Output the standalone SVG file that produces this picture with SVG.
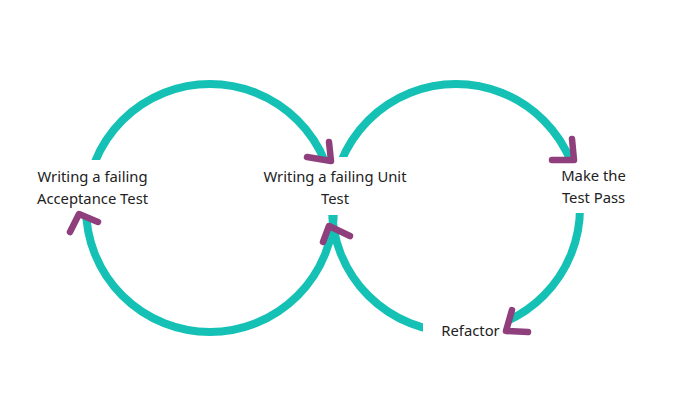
<svg xmlns="http://www.w3.org/2000/svg" width="700" height="400" viewBox="0 0 700 400">
<style>
.loop{fill:none;stroke:#15C1B5;stroke-width:8}
.head{fill:none;stroke:#8E3F7C;stroke-width:6.5;stroke-linecap:round;stroke-linejoin:round}
.lbl{font-family:"Noto Sans","Open Sans","Liberation Sans",sans-serif;font-size:14.8px;fill:#222;text-anchor:middle}
</style>
<defs>
<mask id="gaps" maskUnits="userSpaceOnUse" x="0" y="0" width="700" height="400">
<rect width="700" height="400" fill="#fff"/>
<rect x="20" y="160" width="150" height="55" fill="#000"/>
<rect x="255" y="157" width="160" height="58" fill="#000"/>
<rect x="540" y="157" width="110" height="56" fill="#000"/>
<rect x="423" y="300" width="88" height="50" fill="#000"/>
</mask>
</defs>
<rect width="700" height="400" fill="#fff"/>
<g id="connectors">
<g mask="url(#gaps)">
<circle class="loop" cx="210" cy="208" r="124"/>
<circle class="loop" cx="456" cy="208" r="124"/>
</g>
<polyline class="head" points="329,142 331,161 307,157"/>
<polyline class="head" points="323,242 329,226 350,236"/>
<polyline class="head" points="572,139 574,160 552,160"/>
<polyline class="head" points="512,310 506,331 528,332"/>
<polyline class="head" points="70,232 79,214 98,222"/>
</g>
<g id="node-acceptance">
<text class="lbl" x="92.5" y="181.5">Writing a failing</text>
<text class="lbl" x="92.5" y="203.5">Acceptance Test</text>
</g>
<g id="node-unit">
<text class="lbl" x="335" y="181.5">Writing a failing Unit</text>
<text class="lbl" x="335" y="203.5">Test</text>
</g>
<g id="node-pass">
<text class="lbl" x="593.5" y="181">Make the</text>
<text class="lbl" x="593.5" y="202.5">Test Pass</text>
</g>
<g id="node-refactor">
<text class="lbl" x="470.5" y="336">Refactor</text>
</g>
</svg>
